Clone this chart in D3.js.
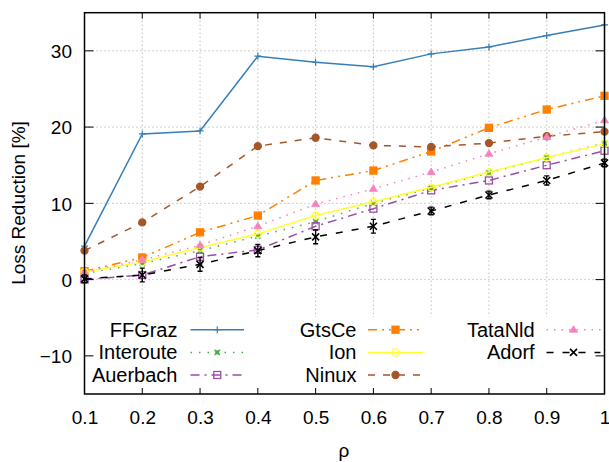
<!DOCTYPE html>
<html>
<head>
<meta charset="utf-8">
<script src="https://cdn.jsdelivr.net/npm/d3@7"></script>
<style>
  html, body { margin: 0; padding: 0; background: #fff; }
  svg { display: block; font-family: "Liberation Sans", Arial, sans-serif; }
</style>
</head>
<body>
<svg id="chart" width="609" height="462"></svg>
<script>
const rho = [0.1, 0.2, 0.3, 0.4, 0.5, 0.6, 0.7, 0.8, 0.9, 1.0];
const xTickLabels = ["0.1", "0.2", "0.3", "0.4", "0.5", "0.6", "0.7", "0.8", "0.9", "1"];
const yTicks = [-10, 0, 10, 20, 30];
const ffgraz    = [4.4, 19.1, 19.5, 29.3, 28.5, 27.9, 29.6, 30.5, 32.0, 33.4];
const interoute = [0.8, 2.1, 3.8, 5.7, 7.6, 10.0, 12.0, 14.0, 16.0, 17.9];
const auerbach  = [0.0, 0.6, 3.0, 3.9, 7.0, 9.3, 11.7, 13.0, 15.0, 16.9];
const gtsce     = [1.1, 2.9, 6.2, 8.4, 13.0, 14.3, 16.8, 19.9, 22.3, 24.1];
const ion       = [1.0, 2.3, 4.2, 6.0, 8.4, 10.2, 12.1, 14.1, 16.0, 17.8];
const ninux     = [3.8, 7.5, 12.2, 17.5, 18.6, 17.6, 17.4, 17.9, 18.8, 19.4];
const tatanld   = [1.0, 2.6, 4.5, 7.0, 9.9, 11.9, 14.1, 16.5, 18.7, 20.9];
const adorf     = [0.1, 0.6, 2.0, 3.8, 5.6, 7.0, 9.0, 11.1, 13.0, 15.3];
const adorfErr  = [0.5, 0.9, 0.9, 0.8, 0.9, 0.9, 0.5, 0.5, 0.6, 0.5];

const seriesNames = ["FFGraz", "Interoute", "Auerbach", "GtsCe", "Ion", "Ninux", "TataNld", "Adorf"];
const seriesValues = [ffgraz, interoute, auerbach, gtsce, ion, ninux, tatanld, adorf];
const seriesColors = ["#377eb8", "#4daf4a", "#984ea3", "#ff7f00", "#ffff33", "#a65628", "#f781bf", "#000000"];
const seriesDash = [null, "1.5,7", "9,5,2,5", "9,5,2,5,2,5", null, "7,8", "1.5,6", "7,9"];
const seriesMarker = ["plus", "xthick", "square", "fsquare", "circle", "fcircle", "ftriangle", "x"];

const svg = d3.select("#chart");
const L = 84.5, R = 604.5, T = 12.7, B = 394;
const x = d3.scaleLinear().domain([0.1, 1.0]).range([L, R]);
const y = d3.scaleLinear().domain([-15, 35]).range([B, T]);

// grid
const grid = svg.append("g");
rho.slice(1, -1).forEach(v => {
  grid.append("line").attr("x1", x(v)).attr("x2", x(v)).attr("y1", T).attr("y2", B)
    .attr("stroke", "#a0a0a0").attr("stroke-width", 1).attr("stroke-dasharray", "1,3");
});
yTicks.forEach(v => {
  grid.append("line").attr("x1", L).attr("x2", R).attr("y1", y(v)).attr("y2", y(v))
    .attr("stroke", "#a0a0a0").attr("stroke-width", 1).attr("stroke-dasharray", "1,3");
});

function drawMarker(g, type, cx, cy, color) {
  const s = 3.5;
  if (type === "plus") {
    g.append("path").attr("d", `M${cx-s},${cy}H${cx+s}M${cx},${cy-s}V${cy+s}`)
      .attr("stroke", color).attr("stroke-width", 1.2).attr("fill", "none");
  } else if (type === "x") {
    const k = 3.5;
    g.append("path").attr("d", `M${cx-k},${cy-k}L${cx+k},${cy+k}M${cx-k},${cy+k}L${cx+k},${cy-k}`)
      .attr("stroke", color).attr("stroke-width", 1.6).attr("fill", "none");
  } else if (type === "xthick") {
    const k = 2.6;
    g.append("rect").attr("x", cx - 2).attr("y", cy - 2).attr("width", 4).attr("height", 4).attr("fill", color);
    g.append("path").attr("d", `M${cx-k},${cy-k}L${cx+k},${cy+k}M${cx-k},${cy+k}L${cx+k},${cy-k}`)
      .attr("stroke", color).attr("stroke-width", 1.6).attr("fill", "none");
  } else if (type === "square" || type === "fsquare") {
    g.append("rect").attr("x", cx - s).attr("y", cy - s).attr("width", 2 * s).attr("height", 2 * s)
      .attr("fill", type === "fsquare" ? color : "none").attr("stroke", color).attr("stroke-width", 1.3);
  } else if (type === "circle" || type === "fcircle") {
    g.append("circle").attr("cx", cx).attr("cy", cy).attr("r", s)
      .attr("fill", type === "fcircle" ? color : "none").attr("stroke", color).attr("stroke-width", 1.3);
  } else if (type === "ftriangle") {
    g.append("path").attr("d", `M${cx},${cy-s-0.5}L${cx+s+0.5},${cy+s-1}L${cx-s-0.5},${cy+s-1}Z`)
      .attr("fill", color).attr("stroke", color).attr("stroke-width", 0.8);
  }
}

// legend background (opaque)
svg.append("rect").attr("x", L + 0.5).attr("y", 317).attr("width", R - L - 1).attr("height", B - 317 - 0.5)
  .attr("fill", "#fff");

// series
const line = d3.line().x((d, i) => x(rho[i])).y(d => y(d));
const plotG = svg.append("g");
seriesValues.forEach((vals, si) => {
  const g = plotG.append("g");
  g.append("path").datum(vals).attr("d", line).attr("fill", "none")
    .attr("stroke", seriesColors[si]).attr("stroke-width", 1.5)
    .attr("stroke-dasharray", seriesDash[si]);
  if (seriesNames[si] === "Adorf") {
    vals.forEach((v, i) => {
      const x0 = x(rho[i]);
      g.append("path").attr("d", `M${x0},${y(v - adorfErr[i])}V${y(v + adorfErr[i])}M${x0-2.5},${y(v - adorfErr[i])}H${x0+2.5}M${x0-2.5},${y(v + adorfErr[i])}H${x0+2.5}`)
        .attr("stroke", "#000").attr("stroke-width", 1.4).attr("fill", "none");
    });
  }
  vals.forEach((v, i) => drawMarker(g, seriesMarker[si], x(rho[i]), y(v), seriesColors[si]));
});

// legend
const legend = svg.append("g").attr("font-size", 20).attr("fill", "#000");
const colText = [177.5, 356.5, 534.7];
const colLine = [[190.5, 244], [368, 423], [546.5, 600.5]];
const rowY = [329.7, 352.4, 375];
seriesNames.forEach((name, si) => {
  const c = Math.floor(si / 3), r = si % 3;
  legend.append("text").attr("x", colText[c]).attr("y", rowY[r]).attr("dy", "0.35em")
    .attr("text-anchor", "end").text(name);
  legend.append("line").attr("x1", colLine[c][0]).attr("x2", colLine[c][1])
    .attr("y1", rowY[r]).attr("y2", rowY[r])
    .attr("stroke", seriesColors[si]).attr("stroke-width", 1.5)
    .attr("stroke-dasharray", seriesDash[si]);
  drawMarker(legend, seriesMarker[si], (colLine[c][0] + colLine[c][1]) / 2, rowY[r], seriesColors[si]);
});

// border & ticks
const axG = svg.append("g");
rho.forEach(v => {
  axG.append("line").attr("x1", x(v)).attr("x2", x(v)).attr("y1", B).attr("y2", B - 6).attr("stroke", "#000").attr("stroke-width", 1);
  axG.append("line").attr("x1", x(v)).attr("x2", x(v)).attr("y1", T).attr("y2", T + 6).attr("stroke", "#000").attr("stroke-width", 1);
});
yTicks.forEach(v => {
  axG.append("line").attr("x1", L).attr("x2", L + 9).attr("y1", y(v)).attr("y2", y(v)).attr("stroke", "#000").attr("stroke-width", 1);
  axG.append("line").attr("x1", R).attr("x2", R - 9).attr("y1", y(v)).attr("y2", y(v)).attr("stroke", "#000").attr("stroke-width", 1);
});
axG.append("rect").attr("x", L).attr("y", T).attr("width", R - L).attr("height", B - T)
  .attr("fill", "none").attr("stroke", "#000").attr("stroke-width", 1.5);

// tick labels via d3 axes (labels only)
const xAxis = d3.axisBottom(x).tickValues(rho).tickFormat((d, i) => xTickLabels[i]).tickSize(0).tickPadding(0);
const xg = svg.append("g").attr("transform", `translate(0,${B + 16.5})`).call(xAxis);
xg.select(".domain").remove();
xg.selectAll("text").attr("font-size", 19).attr("font-family", "Liberation Sans, Arial, sans-serif").attr("fill", "#000").attr("dy", "0.71em");

const yAxis = d3.axisLeft(y).tickValues(yTicks).tickFormat(d3.format("d")).tickSize(0).tickPadding(0);
const yg = svg.append("g").attr("transform", `translate(${L - 12.5},0)`).call(yAxis);
yg.select(".domain").remove();
yg.selectAll("text").attr("font-size", 19).attr("font-family", "Liberation Sans, Arial, sans-serif").attr("fill", "#000").attr("dy", "0.35em");

// axis titles
svg.append("text").attr("x", 344).attr("y", 450.5).attr("dy", "0.35em").attr("text-anchor", "middle")
  .attr("font-size", 19).text("ρ");
svg.append("text").attr("transform", "translate(18,203) rotate(-90)").attr("dy", "0.35em")
  .attr("text-anchor", "middle").attr("font-size", 19).text("Loss Reduction [%]");
</script>
</body>
</html>
